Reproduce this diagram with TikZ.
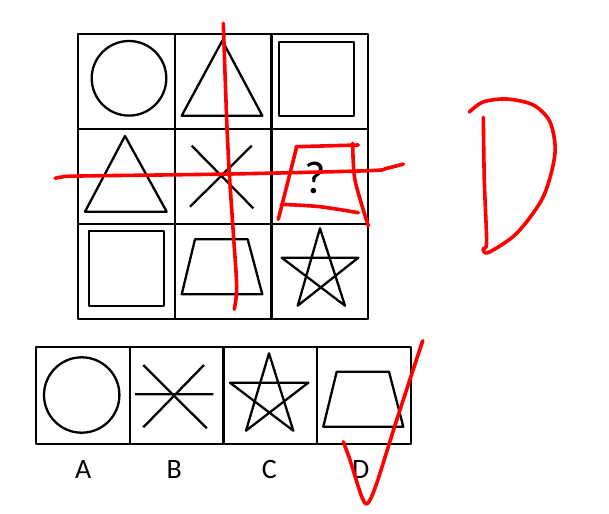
\documentclass[tikz,border=0pt]{standalone}
\usepackage{fontspec}
\setmainfont{Carlito}

\begin{document}
\begin{tikzpicture}[x=1pt, y=-1pt, line join=round,
  cell/.style={draw, line width=2.2pt, minimum width=96.6pt, minimum height=95pt, inner sep=0pt},
  opt/.style={draw, line width=2.2pt, minimum width=93.7pt, minimum height=97pt, inner sep=0pt},
  fig/.style={line width=2.3pt},
  pen/.style={red, line width=3.6pt, line cap=round, line join=round},
  lab/.style={font=\fontsize{28}{32}\selectfont, anchor=base}]
  \useasboundingbox (0,0) rectangle (609,513);

  % puzzle grid
  \foreach \r in {1,2,3}
    \foreach \c in {1,2,3}
      \node[cell] (c\r\c) at ({78.3+96.6*(\c-0.5)},{34+95*(\r-0.5)}) {};
  \draw[fig] (129,78.3) circle (37.3pt);
  \draw[fig] (222.3,40.7) -- (262.3,115.7) -- (181.7,115.7) -- cycle;
  \draw[fig] (279.3,41.7) rectangle (354.3,115.7);
  \draw[fig] (125,136) -- (166.7,211.7) -- (85,211.7) -- cycle;
  \draw[fig] (191.7,145.7) -- (253.3,208.3) (251.7,145.7) -- (190,206.7);
  \node[font=\fontsize{46}{50}\selectfont] (q) at (315,177.5) {?};
  \draw[fig] (89.3,230.7) rectangle (164,305.7);
  \draw[fig] (195,239.3) -- (247.7,239.3) -- (262.3,294.3) -- (181.7,294.3) -- cycle;
  \draw[fig] (320,228.3) -- (297.7,305.7) -- (358.3,257.7) -- (281.7,257.7) -- (345,305.7) -- cycle;

  % answer options
  \foreach \c/\l/\lx in {1/A/83.3,2/B/174.3,3/C/269.3,4/D/360.7} {
    \node[opt] (o\c) at ({36+93.7*(\c-0.5)},395.6) {};
    \node[lab] (l\c) at (\lx,478.3) {\l};
  }
  \draw[fig] (81.7,395) circle (37.7pt);
  \draw[fig] (135,394.3) -- (213.3,394.3) (143.3,365) -- (206.7,428.3) (204,365) -- (143.3,427.3);
  \draw[fig] (269,353.3) -- (246,430.7) -- (308.3,382.7) -- (230,382.7) -- (293.3,430.7) -- cycle;
  \draw[fig] (336.7,371.7) -- (389,371.7) -- (403.3,426.7) -- (323.3,426.7) -- cycle;

  % red marks
  \draw[pen] plot[smooth] coordinates {(223.3,23.3) (226.7,120) (229.3,173) (233.3,233) (236.7,286.7) (234.3,309.3)};
  \draw[pen] plot[smooth] coordinates {(55,178.3) (62,177) (80,176) (230,174) (368.3,170.7) (386,168.5) (403.3,164)};
  \draw[pen] (296,146.7) -- (358.3,145);
  \draw[pen] plot[smooth] coordinates {(352.7,143.3) (355,180) (368.3,226)};
  \draw[pen] plot[smooth] coordinates {(296.7,146.7) (290,173.3) (278.3,219.3)};
  \draw[pen] plot[smooth] coordinates {(281.7,204.3) (320,206.7) (358.3,212.7)};
  \draw[pen] plot[smooth] coordinates {(483.3,117.3) (484.3,180) (486.5,235) (486,247) (483,249) (488.5,252.5)
    (516.7,233.3) (543.3,196.7) (555,153.3) (550,122) (533.3,105) (506.7,99) (483,102) (469.3,112)};
  \draw[pen] plot[smooth] coordinates {(343.3,441.7) (350,460) (361.7,496.7) (367.7,503.3) (376.7,483.3)
    (396.7,420) (422.7,340.7)};
\end{tikzpicture}
\end{document}
